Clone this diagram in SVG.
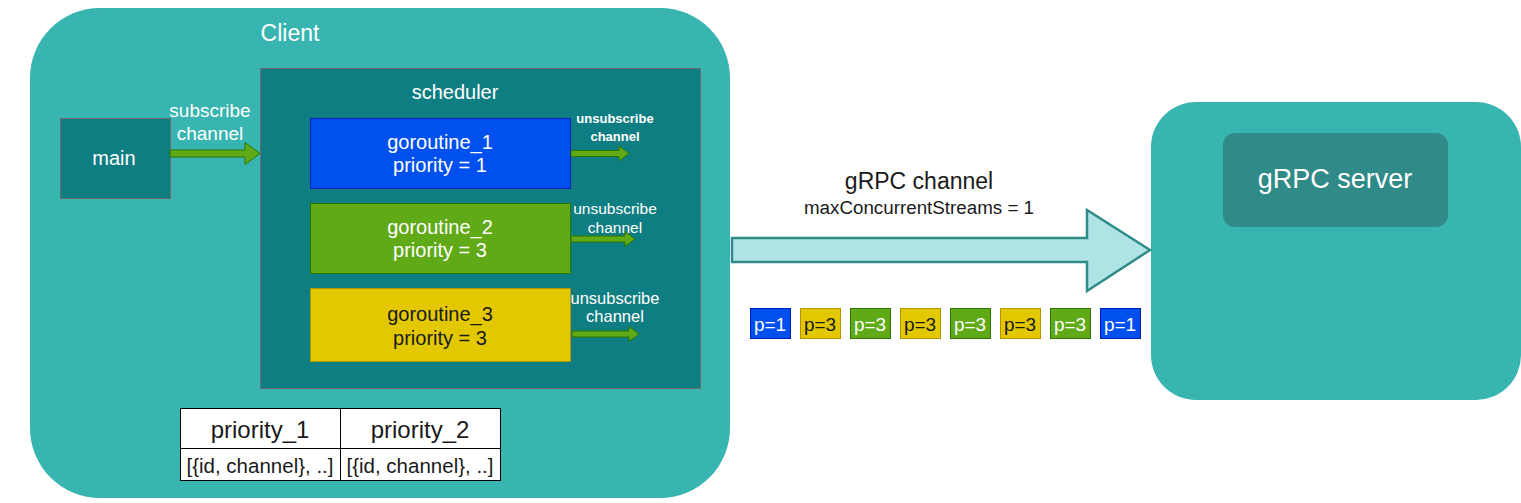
<svg xmlns="http://www.w3.org/2000/svg" width="1521" height="503" viewBox="0 0 1521 503">
<style>
text{font-family:"Liberation Sans",Arial,Helvetica,sans-serif;text-anchor:middle;dominant-baseline:central}
.w{fill:#ffffff}
.k{fill:#1a1a1a}
.dark{fill:#0f7e82;stroke:#6b6b6b;stroke-width:1}
.garrow{fill:#60a917;stroke:#2d7600;stroke-width:1}
.pb{stroke-width:1}
.blue{fill:#0050ef;stroke:#001dbc}
.green{fill:#60a917;stroke:#2d7600}
.yellow{fill:#e3c800;stroke:#b09500}
.cell{fill:#ffffff;stroke:#000000;stroke-width:1}
.g{font-size:20px}
.p{font-size:19px}
.u{font-size:15.5px}
</style>
<rect width="1521" height="503" fill="#ffffff"/>
<g id="client">
<rect x="30" y="8" width="700" height="490" rx="70" ry="70" fill="#38b5b0"/>
<text x="290" y="33" font-size="23" class="w">Client</text>
</g>
<g id="scheduler">
<rect x="260.5" y="68.5" width="440" height="320" class="dark"/>
<text x="455" y="92" font-size="20" class="w">scheduler</text>
</g>
<g id="main">
<rect x="60.5" y="118.5" width="110" height="80" class="dark"/>
<text x="114" y="158" font-size="20" class="w">main</text>
</g>
<g id="goroutine_1">
<rect x="310.5" y="118.5" width="260" height="70" class="blue"/>
<text x="440" y="142" class="g w">goroutine_1</text>
<text x="440" y="165" class="g w">priority = 1</text>
</g>
<g id="goroutine_2">
<rect x="310.5" y="203.5" width="260" height="70" class="green"/>
<text x="440" y="227" class="g w">goroutine_2</text>
<text x="440" y="250" class="g w">priority = 3</text>
</g>
<g id="goroutine_3">
<rect x="310.5" y="288.5" width="260" height="73" class="yellow"/>
<text x="440" y="314" class="g k">goroutine_3</text>
<text x="440" y="338" class="g k">priority = 3</text>
</g>
<g id="table">
<rect x="180.5" y="408.5" width="160" height="40" class="cell"/>
<rect x="340.5" y="408.5" width="160" height="40" class="cell"/>
<rect x="180.5" y="448.5" width="160" height="32" class="cell"/>
<rect x="340.5" y="448.5" width="160" height="32" class="cell"/>
<text x="260" y="429" font-size="24" class="k">priority_1</text>
<text x="420" y="429" font-size="24" class="k">priority_2</text>
<text x="260" y="465" font-size="20.5" class="k">[{id, channel}, ..]</text>
<text x="420" y="465" font-size="20.5" class="k">[{id, channel}, ..]</text>
</g>
<g id="server">
<rect x="1151" y="102" width="370" height="298" rx="45" ry="45" fill="#38b5b0"/>
<rect x="1223" y="133" width="225" height="94" rx="12" ry="12" fill="#308a87"/>
<text x="1335" y="179" font-size="27" class="w">gRPC server</text>
</g>
<g id="packets">
<rect x="750.5" y="308.5" width="40" height="30" class="pb blue"/>
<text x="770" y="324" class="p w">p=1</text>
<rect x="800.5" y="308.5" width="40" height="30" class="pb yellow"/>
<text x="820" y="324" class="p k">p=3</text>
<rect x="850.5" y="308.5" width="40" height="30" class="pb green"/>
<text x="870" y="324" class="p w">p=3</text>
<rect x="900.5" y="308.5" width="40" height="30" class="pb yellow"/>
<text x="920" y="324" class="p k">p=3</text>
<rect x="950.5" y="308.5" width="40" height="30" class="pb green"/>
<text x="970" y="324" class="p w">p=3</text>
<rect x="1000.5" y="308.5" width="40" height="30" class="pb yellow"/>
<text x="1020" y="324" class="p k">p=3</text>
<rect x="1050.5" y="308.5" width="40" height="30" class="pb green"/>
<text x="1070" y="324" class="p w">p=3</text>
<rect x="1100.5" y="308.5" width="40" height="30" class="pb blue"/>
<text x="1120" y="324" class="p w">p=1</text>
</g>
<g id="connectors">
<path d="M170,150 L245,150 L245,142.5 L260,153.5 L245,164.5 L245,157 L170,157 Z" class="garrow"/>
<text x="210" y="110" font-size="19" class="w">subscribe</text>
<text x="210" y="133" font-size="19" class="w">channel</text>
<path d="M571,150.5 L619,150.5 L619,146 L629,153.5 L619,161 L619,156.5 L571,156.5 Z" class="garrow"/>
<text x="615" y="118" font-size="13" font-weight="bold" class="w">unsubscribe</text>
<text x="615" y="136" font-size="13" font-weight="bold" class="w">channel</text>
<path d="M571,236 L625,236 L625,231.5 L635,239 L625,246.5 L625,242 L571,242 Z" class="garrow"/>
<text x="615" y="208" class="u w">unsubscribe</text>
<text x="615" y="227" class="u w">channel</text>
<path d="M572,331 L629,331 L629,326.5 L639,334 L629,341.5 L629,337 L572,337 Z" class="garrow"/>
<text x="615" y="298" font-size="16.5" class="w">unsubscribe</text>
<text x="615" y="316" font-size="16.5" class="w">channel</text>
<path d="M732,238 L1087,238 L1087,210 L1150,250 L1087,291 L1087,262 L732,262 Z" fill="#b0e3e6" stroke="#2e8b87" stroke-width="2.5" stroke-linejoin="miter"/>
<text x="919" y="181" font-size="23" class="k">gRPC channel</text>
<text x="919" y="207" font-size="18.8" class="k">maxConcurrentStreams = 1</text>
</g>
</svg>
